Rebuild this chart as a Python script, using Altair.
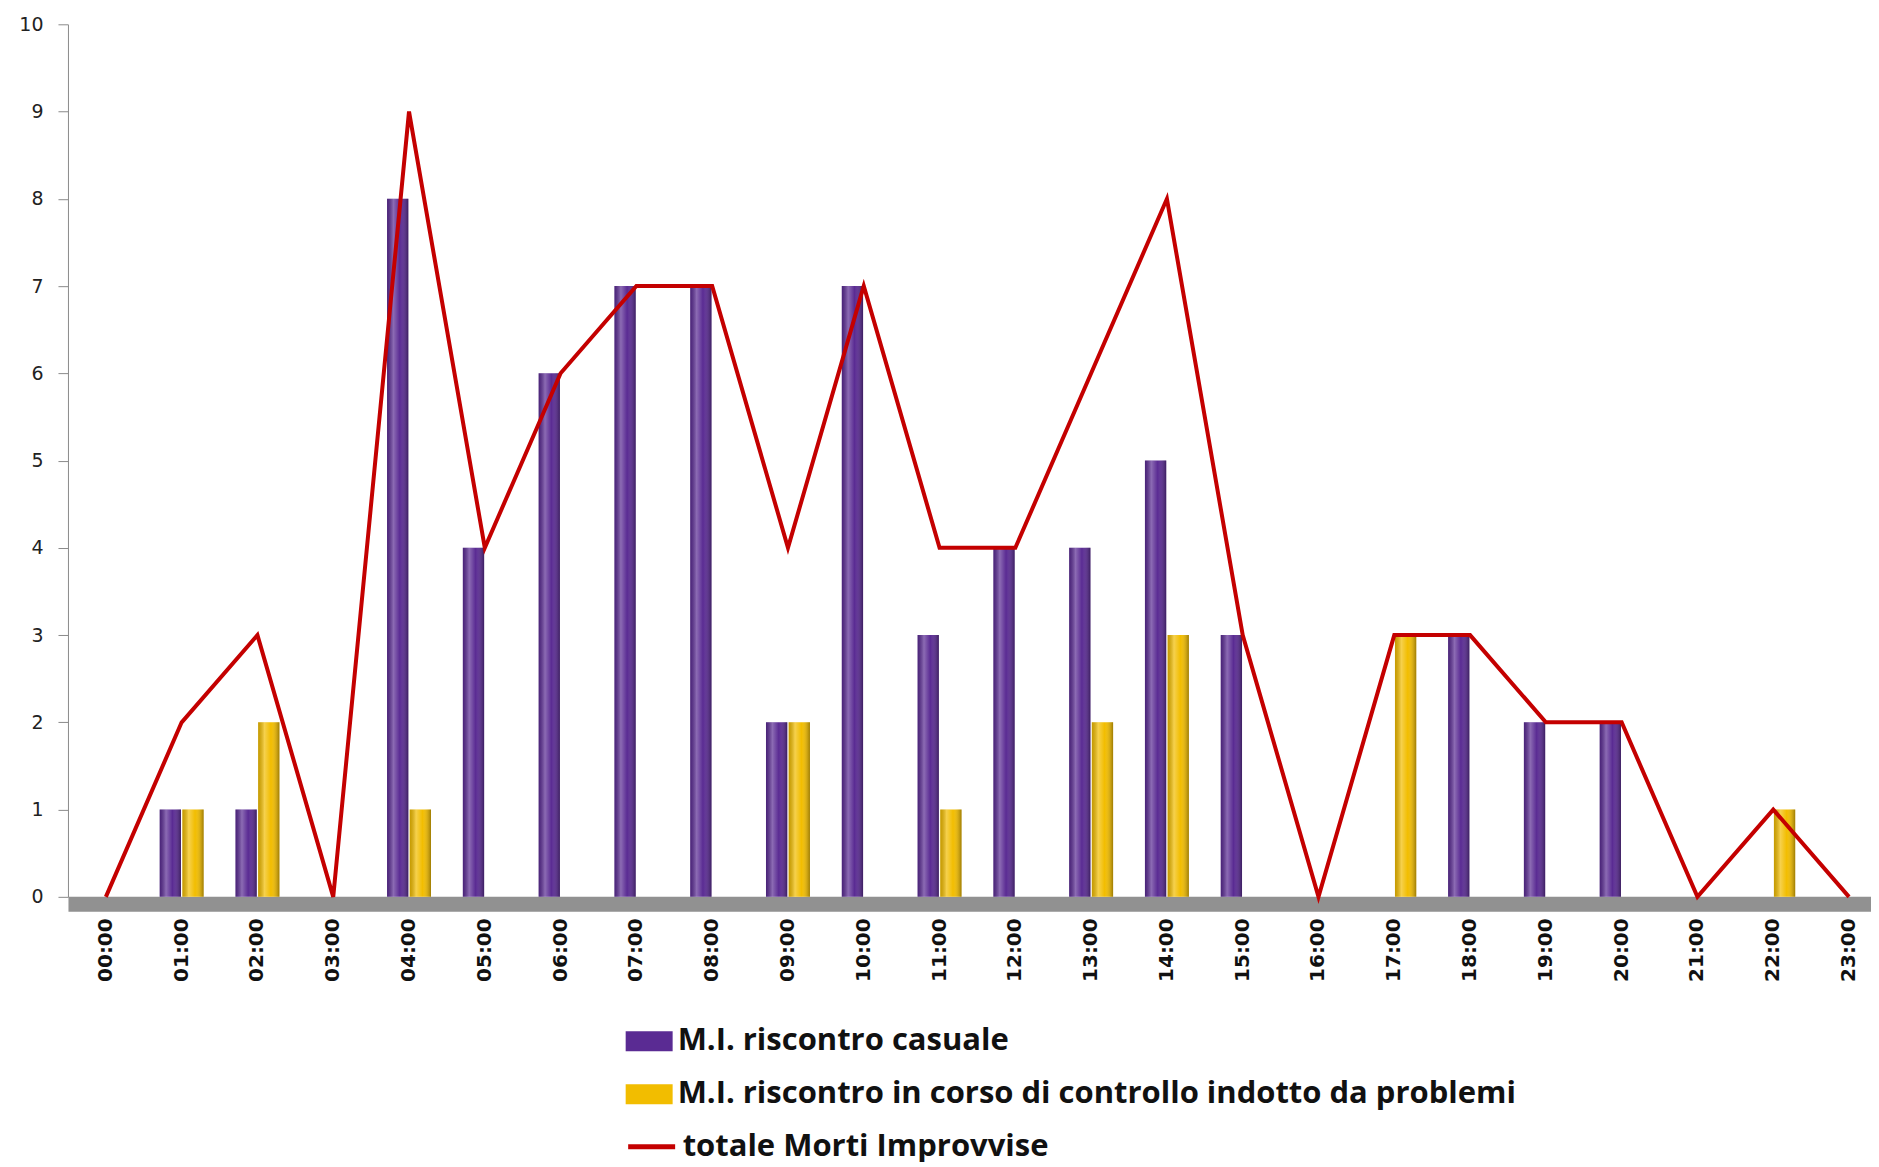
import altair as alt
import pandas as pd

# ---- data ----
ore = ["00:00", "01:00", "02:00", "03:00", "04:00", "05:00", "06:00", "07:00",
       "08:00", "09:00", "10:00", "11:00", "12:00", "13:00", "14:00", "15:00",
       "16:00", "17:00", "18:00", "19:00", "20:00", "21:00", "22:00", "23:00"]
casuale = [0, 1, 1, 0, 8, 4, 6, 7, 7, 2, 7, 3, 4, 4, 5, 3, 0, 0, 3, 2, 2, 0, 0, 0]
controllo = [0, 1, 2, 0, 1, 0, 0, 0, 0, 2, 0, 1, 0, 2, 3, 0, 0, 3, 0, 0, 0, 0, 1, 0]
totale = [0, 2, 3, 0, 9, 4, 6, 7, 7, 4, 7, 4, 4, 6, 8, 3, 0, 3, 3, 2, 2, 0, 1, 0]

serie_barre = ["M.I. riscontro casuale",
               "M.I. riscontro in corso di controllo indotto da problemi"]
serie_linea = "totale Morti Improvvise"
colori_barre = ["#5a2b93", "#f2bd00"]
colore_linea = "#c40000"

rows = []
for o, a, b in zip(ore, casuale, controllo):
    rows.append({"ora": o, "serie": serie_barre[0], "valore": a})
    rows.append({"ora": o, "serie": serie_barre[1], "valore": b})
df_bars = pd.DataFrame(rows)
df_line = pd.DataFrame({"ora": ore, "valore": totale, "serie": [serie_linea] * len(ore)})

x_enc = alt.X(
    "ora:N", sort=ore,
    scale=alt.Scale(paddingInner=0.42, paddingOuter=0.105, align=1),
    axis=alt.Axis(title=None, labelAngle=270, labelFont="DejaVu Sans",
                  labelFontSize=20, labelFontWeight="bold", labelColor="#111111",
                  ticks=False, labelPadding=14, domainColor="#919191",
                  domainWidth=15, offset=7),
)
y_enc = alt.Y(
    "valore:Q",
    scale=alt.Scale(domain=[0, 10], nice=False),
    axis=alt.Axis(title=None, values=list(range(11)), grid=False,
                  labelFont="DejaVu Sans", labelFontSize=19, labelColor="#222222",
                  domainColor="#8a8a8a", tickColor="#8a8a8a", tickSize=10,
                  labelPadding=15),
)
xoff = alt.XOffset("serie:N", sort=serie_barre, scale=alt.Scale(paddingInner=0.06))

legend_common = dict(
    title=None, orient="none", direction="vertical", labelFont="Open Sans",
    labelFontSize=31, labelFontWeight="bold", labelColor="#111111",
    labelLimit=0, labelOffset=5, padding=0, legendX=558,
)

bars = alt.Chart(df_bars).mark_bar().encode(
    x=x_enc, xOffset=xoff, y=y_enc,
    fill=alt.Fill("serie:N", sort=serie_barre,
                  scale=alt.Scale(domain=serie_barre, range=colori_barre),
                  legend=alt.Legend(legendY=994, rowPadding=14,
                                    symbolType="M-1,-0.43L1,-0.43L1,0.43L-1,0.43Z",
                                    symbolSize=2209, symbolStrokeWidth=0,
                                    symbolOpacity=1, **legend_common)),
)

shade = alt.Chart(df_bars).mark_bar(
    fill=alt.LinearGradient(
        gradient="linear", x1=0, x2=1, y1=0, y2=0,
        stops=[alt.GradientStop(offset=0, color="rgba(0,0,0,0.18)"),
               alt.GradientStop(offset=0.3, color="rgba(255,255,255,0.30)"),
               alt.GradientStop(offset=0.6, color="rgba(255,255,255,0.0)"),
               alt.GradientStop(offset=1, color="rgba(0,0,0,0.35)")],
    )
).encode(x=x_enc, xOffset=xoff, y=y_enc)

line = alt.Chart(df_line).mark_line(strokeWidth=4).encode(
    x=x_enc, y=y_enc,
    stroke=alt.Stroke("serie:N",
                      scale=alt.Scale(domain=[serie_linea], range=[colore_linea]),
                      legend=alt.Legend(legendY=1097, symbolType="stroke",
                                        symbolSize=2209, symbolStrokeWidth=5,
                                        **legend_common)),
)

chart = alt.layer(bars, shade, line).resolve_scale(
    fill="independent", stroke="independent"
).properties(
    width=1804, height=873,
    padding={"left": 10, "top": 7, "right": 0, "bottom": 0},
).configure_view(strokeWidth=0)

chart.save("out.html", embed_options={"renderer": "svg", "actions": False})
